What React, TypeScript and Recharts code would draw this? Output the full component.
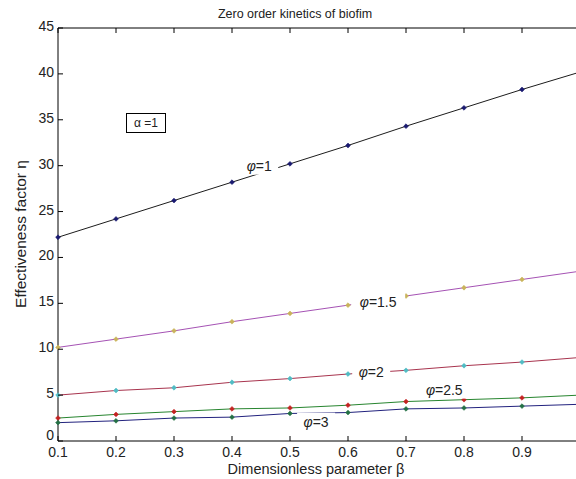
import { LineChart, Line, XAxis, YAxis, ReferenceDot } from "recharts";

// beta values along the x axis
const BETA = [0.1, 0.2, 0.3, 0.4, 0.5, 0.6, 0.7, 0.8, 0.9, 1.0];

// effectiveness factor for each Thiele modulus
const ETA_PHI_1 = [22.2, 24.2, 26.2, 28.2, 30.2, 32.2, 34.3, 36.3, 38.3, 40.2];
const ETA_PHI_1_5 = [10.2, 11.1, 12.0, 13.0, 13.9, 14.8, 15.8, 16.7, 17.6, 18.5];
const ETA_PHI_2 = [5.0, 5.5, 5.8, 6.4, 6.8, 7.3, 7.7, 8.2, 8.6, 9.1];
const ETA_PHI_2_5 = [2.5, 2.9, 3.2, 3.5, 3.6, 3.9, 4.3, 4.5, 4.7, 5.0];
const ETA_PHI_3 = [2.0, 2.2, 2.5, 2.6, 3.0, 3.1, 3.5, 3.6, 3.8, 4.0];

const X_TICKS = [0.1, 0.2, 0.3, 0.4, 0.5, 0.6, 0.7, 0.8, 0.9];
const Y_TICKS = [0, 5, 10, 15, 20, 25, 30, 35, 40, 45];

// inline curve labels, anchored in data space
const CURVE_LABELS = [
  { text: "1", beta: 0.447, eta: 30.0 },
  { text: "1.5", beta: 0.652, eta: 15.1 },
  { text: "2", beta: 0.64, eta: 7.5 },
  { text: "2.5", beta: 0.766, eta: 5.6 },
  { text: "3", beta: 0.545, eta: 2.1 },
];

const rows = BETA.map((b, i) => ({
  beta: b,
  p1: ETA_PHI_1[i],
  p15: ETA_PHI_1_5[i],
  p2: ETA_PHI_2[i],
  p25: ETA_PHI_2_5[i],
  p3: ETA_PHI_3[i],
}));

const SERIES = [
  { key: "p1", line: "#1c1c1c", mark: "#1a1a70" },
  { key: "p15", line: "#a552b4", mark: "#c9b35a" },
  { key: "p2", line: "#a8344e", mark: "#4fbcc4" },
  { key: "p25", line: "#27852f", mark: "#c42222" },
  { key: "p3", line: "#22227e", mark: "#237044" },
];

const FONT = "'Liberation Sans', Arial, sans-serif";
const TICK_LEN = 5;

const diamond = (color: string) => (p: any) => {
  const { cx, cy, index } = p;
  if (cx == null || cy == null) return <g key={index} />;
  const r = 2.4;
  return (
    <path
      key={index}
      d={`M${cx},${cy - r}L${cx + r},${cy}L${cx},${cy + r}L${cx - r},${cy}Z`}
      fill={color}
      stroke={color}
      strokeWidth={0.6}
    />
  );
};

const BottomTick = (p: any) => (
  <g>
    <line x1={p.x} x2={p.x} y1={p.y} y2={p.y - TICK_LEN} stroke="#000" />
    <text x={p.x} y={p.y + 16} textAnchor="middle" fontSize={14} fontFamily={FONT} fill="#222">
      {Number(p.payload.value).toFixed(1)}
    </text>
  </g>
);

const TopTick = (p: any) => (
  <line x1={p.x} x2={p.x} y1={p.y} y2={p.y + TICK_LEN} stroke="#000" />
);

const LeftTick = (p: any) => {
  // the zero label sits a little higher so it clears the x tick labels
  const dy = p.payload.value === 0 ? -1 : 3;
  return (
    <g>
      <line x1={p.x} x2={p.x + TICK_LEN} y1={p.y} y2={p.y} stroke="#000" />
      <text x={p.x - 4} y={p.y + dy} textAnchor="end" fontSize={14} fontFamily={FONT} fill="#222">
        {p.payload.value}
      </text>
    </g>
  );
};

const RightTick = (p: any) => (
  <line x1={p.x} x2={p.x - TICK_LEN} y1={p.y} y2={p.y} stroke="#000" />
);

const curveLabel = (text: string) => (p: any) => {
  const w = 30 + text.length * 8;
  return (
    <g>
      <rect x={p.cx - w / 2} y={p.cy - 9} width={w} height={18} fill="#fff" />
      <text x={p.cx} y={p.cy + 5} textAnchor="middle" fontSize={14} fontFamily={FONT} fill="#222">
        <tspan fontStyle="italic">φ</tspan>
        {"=" + text}
      </text>
    </g>
  );
};

export default function App() {
  return (
    <div
      style={{
        position: "absolute",
        left: 0,
        top: 0,
        width: 576,
        height: 479,
        overflow: "hidden",
        background: "#fff",
        fontFamily: FONT,
      }}
    >
      <LineChart
        width={600}
        height={479}
        data={rows}
        margin={{ top: 27, right: 19, bottom: 37, left: 57 }}
      >
        <XAxis
          dataKey="beta"
          type="number"
          domain={[0.1, 1.0]}
          ticks={X_TICKS}
          tickSize={0}
          tickMargin={0}
          height={1}
          axisLine={{ stroke: "#000" }}
          tick={<BottomTick />}
          interval={0}
        />
        <XAxis
          xAxisId="top"
          orientation="top"
          dataKey="beta"
          type="number"
          domain={[0.1, 1.0]}
          ticks={X_TICKS}
          tickSize={0}
          tickMargin={0}
          height={1}
          axisLine={{ stroke: "#000" }}
          tick={<TopTick />}
          interval={0}
        />
        <YAxis
          type="number"
          domain={[0, 45]}
          ticks={Y_TICKS}
          tickSize={0}
          tickMargin={0}
          width={1}
          axisLine={{ stroke: "#000" }}
          tick={<LeftTick />}
          interval={0}
        />
        <YAxis
          yAxisId="right"
          orientation="right"
          type="number"
          domain={[0, 45]}
          ticks={Y_TICKS}
          tickSize={0}
          tickMargin={0}
          width={1}
          axisLine={{ stroke: "#000" }}
          tick={<RightTick />}
          interval={0}
        />
        {SERIES.map((s) => (
          <Line
            key={s.key}
            dataKey={s.key}
            stroke={s.line}
            strokeWidth={1}
            type="linear"
            dot={diamond(s.mark)}
            activeDot={false}
            isAnimationActive={false}
          />
        ))}
        {CURVE_LABELS.map((l) => (
          <ReferenceDot
            key={l.text}
            x={l.beta}
            y={l.eta}
            r={0}
            shape={curveLabel(l.text)}
          />
        ))}
      </LineChart>

      <div
        style={{
          position: "absolute",
          left: 195,
          top: 7,
          width: 200,
          textAlign: "center",
          fontSize: 12.5,
          color: "#222",
        }}
      >
        Zero order kinetics of biofim
      </div>

      <div
        style={{
          position: "absolute",
          left: 126,
          top: 113,
          width: 40,
          height: 20,
          border: "1px solid #000",
          boxSizing: "border-box",
          fontSize: 12,
          lineHeight: "18px",
          textAlign: "center",
          color: "#222",
          background: "#fff",
        }}
      >
        α =1
      </div>

      <div
        style={{
          position: "absolute",
          left: 21,
          top: 234,
          transform: "translate(-50%, -50%) rotate(-90deg)",
          whiteSpace: "nowrap",
          fontSize: 15.5,
          color: "#222",
        }}
      >
        Effectiveness factor η
      </div>

      <div
        style={{
          position: "absolute",
          left: 216,
          top: 461,
          width: 200,
          textAlign: "center",
          fontSize: 14.5,
          lineHeight: "16px",
          whiteSpace: "nowrap",
          color: "#222",
        }}
      >
        Dimensionless parameter  β
      </div>
    </div>
  );
}
